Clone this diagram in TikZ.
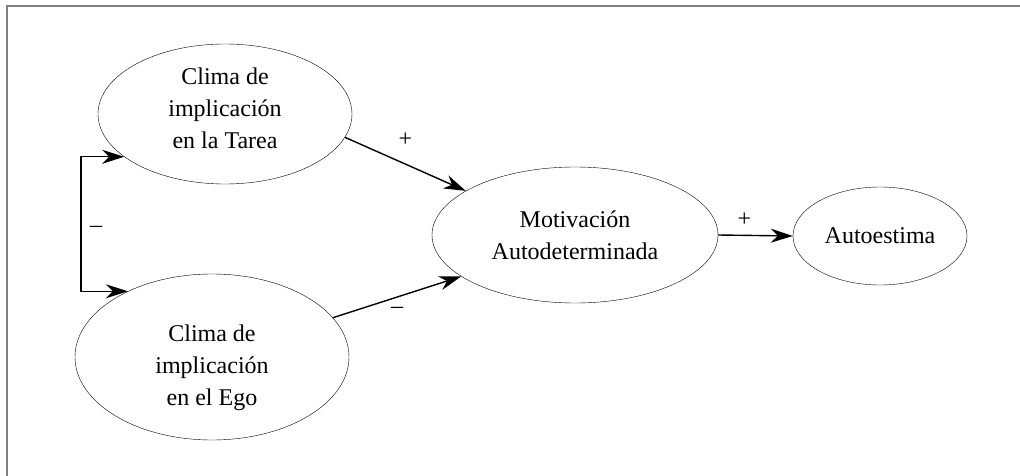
\documentclass[tikz,border=0pt]{standalone}
\usepackage{fontspec}
\setmainfont{Liberation Serif}
\usetikzlibrary{arrows.meta,shapes.geometric}

\begin{document}
\begin{tikzpicture}[x=1pt,y=-1pt,>={Stealth[length=22pt,width=14pt,inset=7pt]},semithick]
\tikzstyle{every node}=[font=\fontsize{24}{32}\selectfont]
\tikzstyle{every label}=[align=center]
\tikzstyle{factor}=[ellipse,draw=black,thin,inner sep=0pt,align=center]
\tikzstyle{link}=[->,line width=1.4pt]
\useasboundingbox (0,0) rectangle (1020,476);
\draw[gray,line width=2pt] (7,476) -- (7,6) -- (1020,6);

\node[factor,minimum width=254pt,minimum height=140pt,
  label={[yshift=6pt]center:Clima de\\ implicación\\ en la Tarea}] (A) at (225,114) {};
\node[factor,minimum width=274pt,minimum height=166pt,
  label={[yshift=-8pt,text depth=0pt]center:Clima de\\ implicación\\ en el Ego}] (B) at (212,357) {};
\node[factor,minimum width=286pt,minimum height=136pt] (M) at (575,235) {Motivación\\ Autodeterminada};
\node[factor,minimum width=174pt,minimum height=98pt] (E) at (880,236) {Autoestima};
\coordinate (brk) at (81,220);

\draw[link] (A.-11) -- node[above=14pt] {+} (M.158);
\draw[link] (B.18) -- node[below=6pt] {–} (M.200);
\draw[link] (M.east) -- node[pos=0.35,above=5pt] {+} (E.west);
\draw[link,<->] (A.203) -- (A.203 -| brk) -- node[right=5pt,yshift=-5pt] {–} (B.142 -| brk) -- (B.142);
\end{tikzpicture}
\end{document}
